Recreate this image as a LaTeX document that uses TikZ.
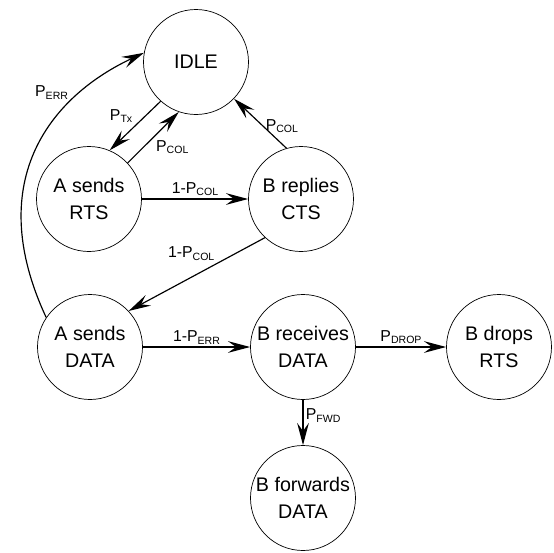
\documentclass[tikz,border=0pt]{standalone}
\usepackage{fontspec}
\setmainfont{Liberation Sans}
\usetikzlibrary{arrows.meta}

\newcommand{\lsub}[1]{\raisebox{-0.3ex}{\fontsize{9}{10}\selectfont #1}}

\begin{document}
\begin{tikzpicture}[x=0.03cm, y=0.03cm,
    state/.style={draw, circle, line width=0.6pt, minimum size=3.15cm, inner sep=0pt, align=center, font=\fontsize{16.8}{22.5}\selectfont},
    trans/.style={-{Stealth[length=19pt, width=10pt, inset=7pt]}, line width=1pt},
    prob/.style={font=\fontsize{13.5}{15}\selectfont, inner sep=2pt}]
      \useasboundingbox (0,0) rectangle (554,-552);

      % State nodes
      \node[state] (idle) at (196,-62) {IDLE};
      \node[state] (artsl) at (89,-199) {A sends\\RTS};
      \node[state] (bcts) at (301,-199) {B replies\\CTS};
      \node[state] (adata) at (90,-347) {A sends\\DATA};
      \node[state] (brecv) at (303,-347) {B receives\\DATA};
      \node[state] (bdrop) at (499,-347) {B drops\\RTS};
      \node[state] (bfwd) at (303,-498) {B forwards\\DATA};

      % Transitions
      \draw[trans] (idle.228) -- node[prob, above left, pos=0.5] {P\lsub{Tx}} (artsl.67);
      \draw[trans] (artsl.43) -- node[prob, below right, pos=0.5] {P\lsub{COL}} (idle.251);
      \draw[trans] (artsl) -- node[prob, above] {1-P\lsub{COL}} (bcts);
      \draw[trans] (bcts.106) -- node[prob, right, pos=0.45] {P\lsub{COL}} (idle.316);
      \draw[trans] (bcts.227) -- node[prob, above left, pos=0.35] {1-P\lsub{COL}} (adata.43);
      \draw[trans] (adata.146) to[out=115, in=205, out looseness=1.4, in looseness=0.9] node[prob, anchor=south east, pos=0.7] {P\lsub{ERR}} (idle.170);
      \draw[trans] (adata) -- node[prob, above] {1-P\lsub{ERR}} (brecv);
      \draw[trans] (brecv) -- node[prob, above] {P\lsub{DROP}} (bdrop);
      \draw[trans] (brecv) -- node[prob, right, pos=0.35] {P\lsub{FWD}} (bfwd);
    \end{tikzpicture}
\end{document}
